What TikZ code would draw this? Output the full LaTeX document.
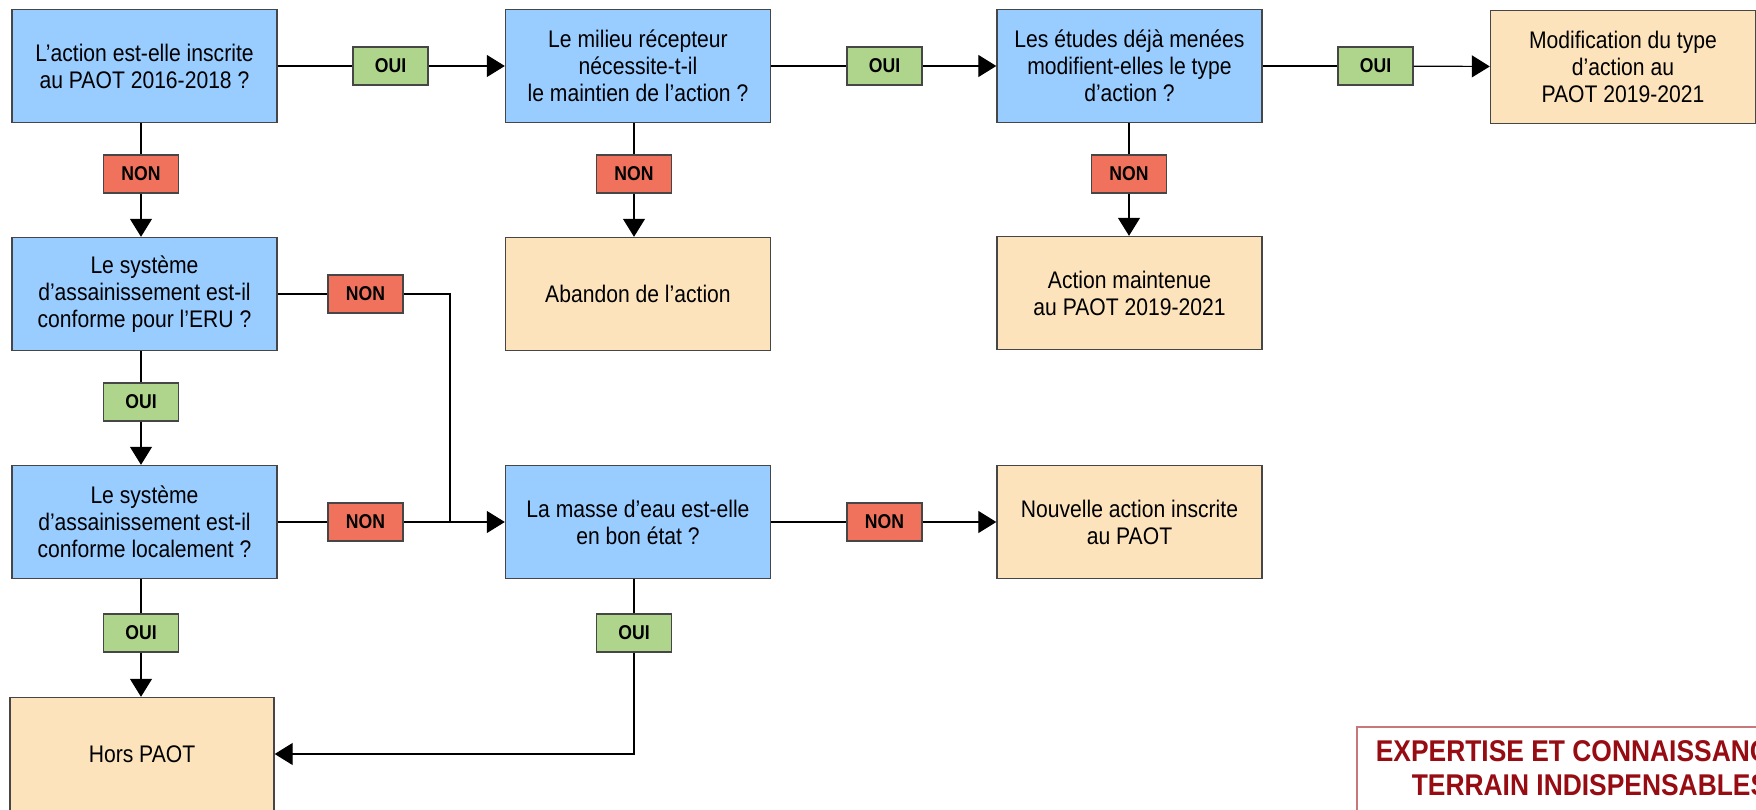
\documentclass[tikz,border=0pt]{standalone}
\usepackage{fontspec}
\setmainfont{Liberation Sans}[FakeStretch=0.88]
\usetikzlibrary{arrows.meta}
\definecolor{qblue}{RGB}{153,204,255}
\definecolor{rbeige}{RGB}{252,227,188}
\definecolor{yesgreen}{RGB}{175,213,140}
\definecolor{nored}{RGB}{241,114,92}
\definecolor{edgegray}{RGB}{70,70,70}
\definecolor{noteborder}{RGB}{200,120,120}
\definecolor{notetext}{RGB}{150,12,18}
\tikzset{
  box/.style={draw=edgegray, line width=1.4pt, minimum width=265pt, minimum height=113pt,
    inner sep=0pt, align=center, font=\fontsize{24}{27}\selectfont},
  question/.style={box, fill=qblue},
  result/.style={box, fill=rbeige},
  tag/.style={draw=edgegray, line width=1.2pt, minimum width=75pt, minimum height=38pt,
    inner sep=0pt, font=\fontsize{20}{22}\selectfont\bfseries},
  yes/.style={tag, fill=yesgreen},
  no/.style={tag, fill=nored},
  link/.style={draw=black, line width=1.2pt},
  flow/.style={link, -{Triangle[length=18pt,width=22pt]}}
}
\begin{document}
\begin{tikzpicture}[x=1pt, y=-1pt]
\useasboundingbox (0,0) rectangle (1756,810);
\clip (0,0) rectangle (1756,810);

% decision boxes
\node[question] (A) at (144.5,66) {L’action est-elle inscrite\\au PAOT 2016-2018 ?};
\node[question] (B) at (638,66) {Le milieu récepteur\\nécessite-t-il\\le maintien de l’action ?};
\node[question] (D) at (1129.5,66) {Les études déjà menées\\modifient-elles le type\\d’action ?};
\node[question] (C) at (144.5,294) {Le système\\d’assainissement est-il\\conforme pour l’ERU ?};
\node[question] (G) at (144.5,522) {Le système\\d’assainissement est-il\\conforme localement ?};
\node[question] (H) at (638,522) {La masse d’eau est-elle\\en bon état ?};

% outcome boxes
\node[result] (F) at (1623,67) {Modification du type\\d’action au\\PAOT 2019-2021};
\node[result] (E) at (638,294) {Abandon de l’action};
\node[result] (K) at (1129.5,293) {Action maintenue\\au PAOT 2019-2021};
\node[result] (I) at (1129.5,522) {Nouvelle action inscrite\\au PAOT};
\node[result, minimum width=264pt] (J) at (142,754) {Hors PAOT};

% answer tags
\node[yes] (oAB) at (390.5,66) {OUI};
\node[yes] (oBD) at (884.5,66) {OUI};
\node[yes] (oDF) at (1375.5,66) {OUI};
\node[no] (nA) at (141,174) {NON};
\node[no] (nB) at (634,174) {NON};
\node[no] (nD) at (1129,174) {NON};
\node[no] (nC) at (365.5,294) {NON};
\node[yes] (oC) at (141,402) {OUI};
\node[no] (nG) at (365.5,522) {NON};
\node[no] (nH) at (884.5,522) {NON};
\node[yes] (oG) at (141,633) {OUI};
\node[yes] (oH) at (634,633) {OUI};

\coordinate (merge) at (450,522);

% top row
\draw[link] (A) -- (oAB);
\draw[flow] (oAB) -- (B);
\draw[link] (B) -- (oBD);
\draw[flow] (oBD) -- (D);
\draw[link] (D) -- (oDF);
\draw[flow] (oDF) -- (F);

% downward branches
\draw[link] (A.south -| nA) -- (nA);
\draw[flow] (nA) -- (C.north -| nA);
\draw[link] (B.south -| nB) -- (nB);
\draw[flow] (nB) -- (E.north -| nB);
\draw[link] (D.south -| nD) -- (nD);
\draw[flow] (nD) -- (K.north -| nD);
\draw[link] (C.south -| oC) -- (oC);
\draw[flow] (oC) -- (G.north -| oC);
\draw[link] (G.south -| oG) -- (oG);
\draw[flow] (oG) -- (J.north -| oG);

% water body branch
\draw[link] (C) -- (nC);
\draw[link] (nC) -| (merge);
\draw[link] (G) -- (nG);
\draw[flow] (nG) -- (H);
\draw[link] (H) -- (nH);
\draw[flow] (nH) -- (I);
\draw[link] (H.south -| oH) -- (oH);
\draw[flow] (oH) |- (J.east);

% note
\draw[draw=noteborder, line width=1.3pt] (1357,727) rectangle (1815,900);
\node[text=notetext, align=center, font=\fontsize{30}{34}\selectfont\bfseries, anchor=north] (note) at (1590,737)
  {EXPERTISE ET CONNAISSANCES\\TERRAIN INDISPENSABLES};
\end{tikzpicture}
\end{document}
